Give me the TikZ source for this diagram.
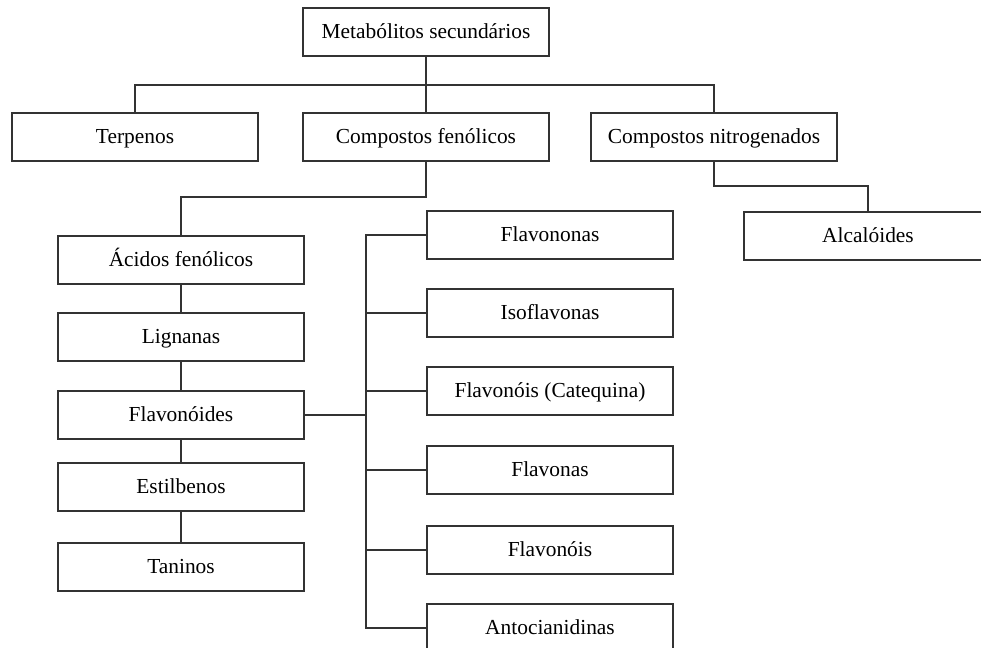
\documentclass[tikz,border=0pt]{standalone}
\usepackage{fontspec}
\setmainfont{Liberation Serif}
\usetikzlibrary{positioning}
\definecolor{linha}{HTML}{333333}
\tikzset{
	caixa/.style={draw=linha, line width=0.7pt, rectangle, minimum width=123pt, minimum height=24pt, inner sep=0pt, text height=1.8ex, text depth=0.35ex, font=\fontsize{10.7}{13}\selectfont},
	liga/.style={draw=linha, line width=0.7pt}
}
\begin{document}
\begin{tikzpicture}[x=0.5pt, y=-0.5pt]
				\clip (0,0) rectangle (981,648);
				\fill[white] (0,0) rectangle (981,648);
				
				% 顶层
				\node[caixa] (meta) at (426,32) {Metabólitos secundários};
				\node[caixa] (terp) at (135,137) {Terpenos};
				\node[caixa] (fen) at (426,137) {Compostos fenólicos};
				\node[caixa] (nitro) at (714,137) {Compostos nitrogenados};
				\node[caixa, minimum width=124pt] (alca) at (868,236) {Alcalóides};
				
				% 左列
				\node[caixa] (acid) at (181,260) {Ácidos fenólicos};
				\node[caixa] (lign) at (181,337) {Lignanas};
				\node[caixa] (flavd) at (181,415) {Flavonóides};
				\node[caixa] (estil) at (181,487) {Estilbenos};
				\node[caixa] (tanin) at (181,567) {Taninos};
				
				% 右列
				\node[caixa] (flavon) at (550,235) {Flavononas};
				\node[caixa] (iso) at (550,313) {Isoflavonas};
				\node[caixa] (cateq) at (550,391) {Flavonóis (Catequina)};
				\node[caixa] (flavas) at (550,470) {Flavonas};
				\node[caixa] (flavois) at (550,550) {Flavonóis};
				\node[caixa] (anto) at (550,628) {Antocianidinas};
				
				% 连线
				\coordinate (barra) at (0,85);
				\coordinate (fenY) at (0,197);
				\coordinate (nitY) at (0,186);
				\coordinate (colB) at (366,0);
				
				\draw[liga] (meta.south) -- (fen.north);
				\draw[liga] (terp.north) |- (meta.south |- barra) -| (nitro.north);
				\draw[liga] (fen.south) -- (fen.south |- fenY) -| (acid.north);
				\draw[liga] (nitro.south) -- (nitro.south |- nitY) -| (alca.north);
				
				\draw[liga] (acid) -- (lign);
				\draw[liga] (lign) -- (flavd);
				\draw[liga] (flavd) -- (estil);
				\draw[liga] (estil) -- (tanin);
				
				\draw[liga] (flavd.east) -- (flavd.east -| colB);
				\draw[liga] (flavon.west) -- (flavon.west -| colB) -- (anto.west -| colB) -- (anto.west);
				\foreach \n in {iso, cateq, flavas, flavois}
					\draw[liga] (\n.west) -- (\n.west -| colB);
			\end{tikzpicture}
\end{document}
